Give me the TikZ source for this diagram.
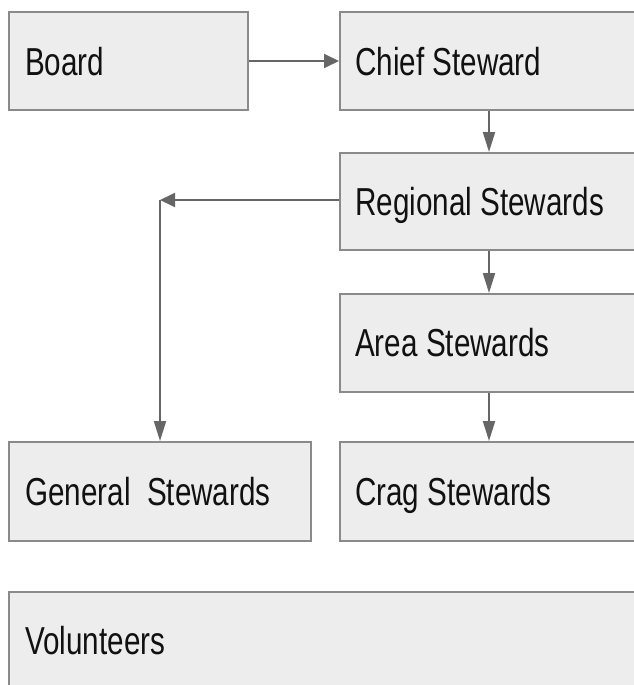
\documentclass[tikz,border=0pt]{standalone}
\usepackage{fontspec}
\setmainfont{Liberation Sans}
\usetikzlibrary{arrows.meta}
\definecolor{boxfill}{HTML}{EDEDED}
\definecolor{boxline}{HTML}{8A8A8A}
\definecolor{arrline}{HTML}{666666}
\definecolor{txt}{HTML}{111111}
\tikzset{
  stepbox/.style={draw=boxline, line width=2pt, fill=boxfill, rectangle, anchor=north west, inner sep=0pt, minimum height=98pt},
  lbl/.style={anchor=base west, inner sep=0pt, text=txt, font=\fontsize{39}{39}\selectfont},
  harr/.style={draw=arrline, line width=2pt, -{Triangle[length=15pt,width=14pt]}},
  varr/.style={draw=arrline, line width=2pt, -{Triangle[length=20pt,width=12pt]}},
}
\newcommand{\sq}[1]{\scalebox{0.76}[1]{#1}}
\begin{document}
\begin{tikzpicture}[x=1pt,y=-1pt]
\useasboundingbox (0,0) rectangle (634,685);
\clip (0,0) rectangle (634,685);
\fill[white] (0,0) rectangle (634,685);
\node[stepbox, minimum width=239pt] (board) at (8,11) {};
\node[stepbox, minimum width=320pt] (chief) at (339,11) {};
\node[stepbox, minimum width=320pt, minimum height=97pt] (reg) at (339,152) {};
\node[stepbox, minimum width=320pt] (area) at (339,293) {};
\node[stepbox, minimum width=302pt, minimum height=99pt] (gen) at (8,441) {};
\node[stepbox, minimum width=320pt, minimum height=99pt] (crag) at (339,441) {};
\node[stepbox, minimum width=650pt, minimum height=120pt] (vol) at (8,591) {};
\node[lbl] (tboard) at ([xshift=17pt,yshift=-14pt]board.west) {\sq{Board}};
\node[lbl] (tchief) at ([xshift=16pt,yshift=-14pt]chief.west) {\sq{Chief Steward}};
\node[lbl] (treg) at ([xshift=16pt,yshift=-14pt]reg.west) {\sq{Regional Stewards}};
\node[lbl] (tarea) at ([xshift=16pt,yshift=-13pt]area.west) {\sq{Area Stewards}};
\node[lbl] (tgen) at ([xshift=17pt,yshift=-14pt]gen.west) {\sq{General\ \ Stewards}};
\node[lbl] (tcrag) at ([xshift=16pt,yshift=-14pt]crag.west) {\sq{Crag Stewards}};
\node[lbl] (tvol) at (25,654) {\sq{Volunteers}};
\coordinate (corner) at (160,200);
\draw[harr] (board.east) -- (chief.west);
\draw[varr] ([xshift=150pt]chief.south west) -- ([xshift=150pt]reg.north west);
\draw[varr] ([xshift=150pt]reg.south west) -- ([xshift=150pt]area.north west);
\draw[varr] ([xshift=150pt]area.south west) -- ([xshift=150pt]crag.north west);
\draw[harr] (reg.west |- corner) -- (corner);
\draw[varr] (corner) -- (corner |- gen.north);
\end{tikzpicture}
\end{document}
